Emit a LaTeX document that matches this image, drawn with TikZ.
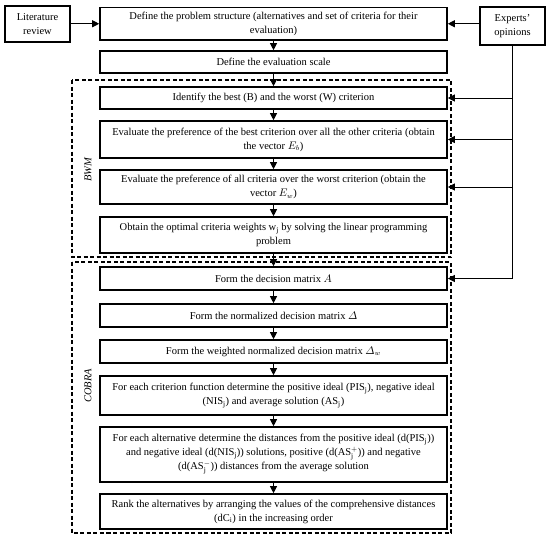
\documentclass[tikz,border=0pt]{standalone}
\usepackage{fontspec}
\usepackage{amsmath}
\setmainfont{Liberation Serif}
\usetikzlibrary{arrows.meta}
\begin{document}
\begin{tikzpicture}[x=1pt,y=1pt,
  font=\fontsize{10.5}{14}\selectfont,
  stepbox/.style={draw, line width=1.6pt, minimum width=347pt, align=center, inner sep=2pt},
  sidebox/.style={draw, line width=1.6pt, minimum width=65pt, align=center, inner sep=2pt},
  arr/.style={-{Triangle[length=7pt,width=7pt]}, line width=1pt},
  dashbox/.style={draw, line width=1.3pt, dash pattern=on 4pt off 2.5pt},
  grouplabel/.style={rotate=90, font=\fontsize{10.5}{12}\selectfont\itshape}]
\useasboundingbox (0,0) rectangle (550,-541);

\node[sidebox, minimum height=36pt] (lit) at (37.5,-24) {Literature\\review};
\node[sidebox, minimum height=38pt] (exp) at (512.5,-26) {Experts'\\opinions};

\node[stepbox, minimum height=32.5pt] (b1) at (273.5,-23.75) {Define the problem structure (alternatives and set of criteria for their\\evaluation)};
\node[stepbox, minimum height=22pt] (b2) at (273.5,-62) {Define the evaluation scale};
\node[stepbox, minimum height=22pt] (b3) at (273.5,-98) {Identify the best (B) and the worst (W) criterion};
\node[stepbox, minimum height=37pt] (b4) at (273.5,-139.5) {Evaluate the preference of the best criterion over all the other criteria (obtain\\the vector $E_b$)};
\node[stepbox, minimum height=34pt] (b5) at (273.5,-187) {Evaluate the preference of all criteria over the worst criterion (obtain the\\vector $E_w$)};
\node[stepbox, minimum height=36pt] (b6) at (273.5,-235) {Obtain the optimal criteria weights w\textsubscript{j} by solving the linear programming\\problem};
\node[stepbox, minimum height=23pt] (b7) at (273.5,-278.5) {Form the decision matrix $A$};
\node[stepbox, minimum height=23pt] (b8) at (273.5,-315.5) {Form the normalized decision matrix $\varDelta$};
\node[stepbox, minimum height=23pt] (b9) at (273.5,-351.5) {Form the weighted normalized decision matrix $\varDelta_w$};
\node[stepbox, minimum height=39pt] (b10) at (273.5,-395.5) {For each criterion function determine the positive ideal (PIS\textsubscript{j}), negative ideal\\(NIS\textsubscript{j}) and average solution (AS\textsubscript{j})};
\node[stepbox, minimum height=55pt] (b11) at (273.5,-454.5) {For each alternative determine the distances from the positive ideal (d(PIS\textsubscript{j}))\\and negative ideal (d(NIS\textsubscript{j})) solutions, positive (d($\text{AS}_\text{j}^{+}$)) and negative\\(d($\text{AS}_\text{j}^{-}$)) distances from the average solution};
\node[stepbox, minimum height=35pt] (b12) at (273.5,-511.5) {Rank the alternatives by arranging the values of the comprehensive distances\\(dC\textsubscript{i}) in the increasing order};

\draw[dashbox] (72,-80) rectangle (451,-257);
\draw[dashbox] (72,-262) rectangle (451,-533);
\node[grouplabel] (bwm) at (88,-170) {BWM};
\node[grouplabel] (cobra) at (88,-386) {COBRA};

\draw[arr] (lit.east |- b1.west) -- (b1.west);
\draw[arr] (exp.west |- b1.east) -- (b1.east);
\foreach \a/\b in {b1/b2,b2/b3,b3/b4,b4/b5,b5/b6,b6/b7,b7/b8,b8/b9,b9/b10,b10/b11,b11/b12}
  \draw[arr] (\a.south) -- (\b.north);

\coordinate (turn) at (exp.south |- b7.east);
\draw[line width=1pt] (exp.south) -- (turn);
\draw[arr] (turn) -- (b7.east);
\foreach \t in {b3,b4,b5}
  \draw[arr] (exp.south |- \t.east) -- (\t.east);
\end{tikzpicture}
\end{document}
